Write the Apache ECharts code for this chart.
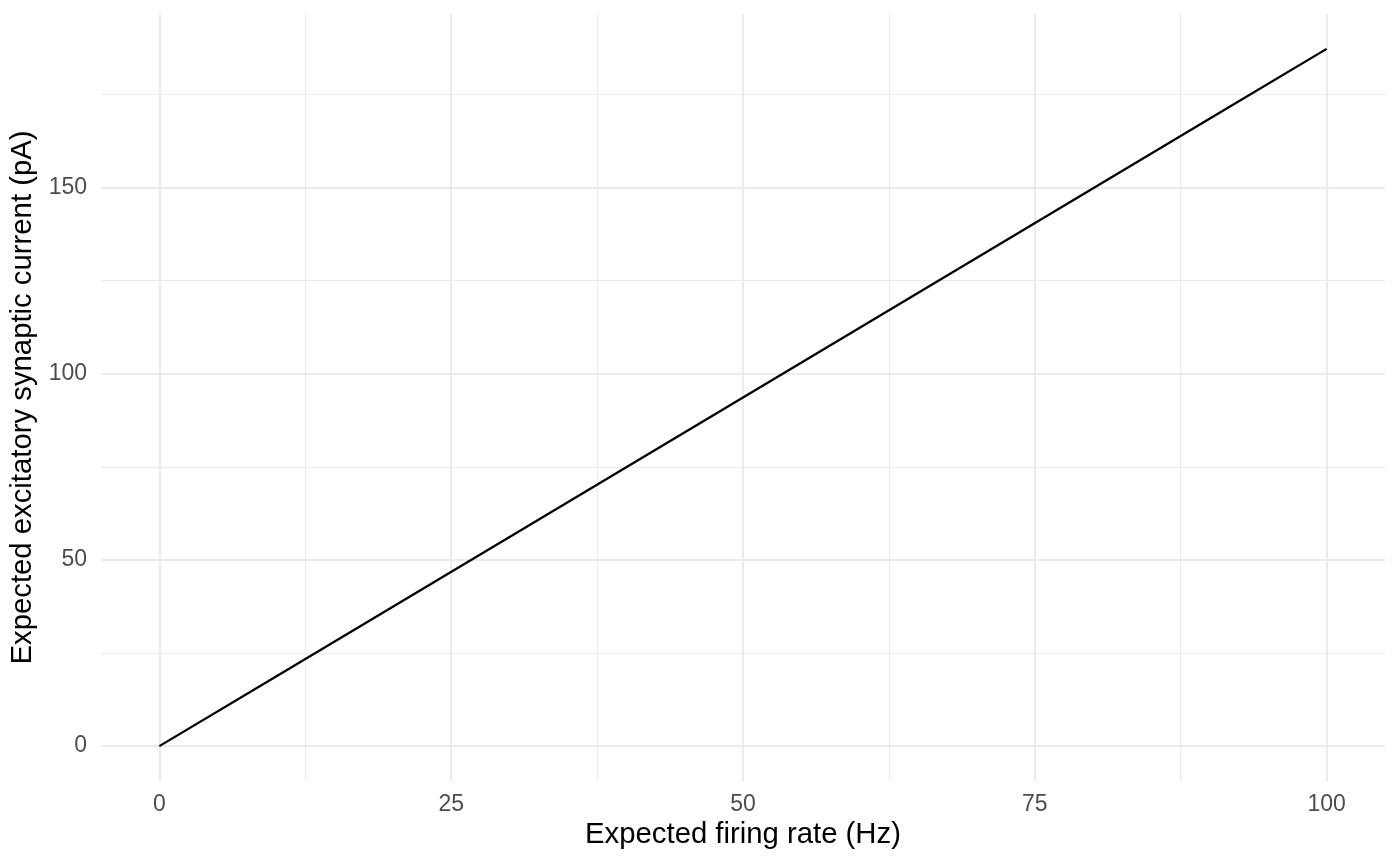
<!DOCTYPE html>
<html><head><meta charset="utf-8">
<script src="https://cdn.jsdelivr.net/npm/echarts@6/dist/echarts.min.js"></script>
<style>html,body{margin:0;padding:0;background:#fff}#c{width:1400px;height:865px}</style>
</head><body><div id="c"></div>
<script>
const rateHz = [0, 10, 20, 30, 40, 50, 60, 70, 80, 90, 100];
const currentPA = [0, 18.72, 37.44, 56.16, 74.88, 93.6, 112.32, 131.04, 149.76, 168.48, 187.2];
const xMajor = [0, 25, 50, 75, 100];
const xMinor = [12.5, 37.5, 62.5, 87.5];
const yMajor = [0, 50, 100, 150];
const yMinor = [25, 75, 125, 175];
const xName = 'Expected firing rate (Hz)';
const yName = 'Expected excitatory synaptic current (pA)';

const font = 'Liberation Sans, Arial, Helvetica, sans-serif';
const chart = echarts.init(document.getElementById('c'));
function gridLines(vals, key, w) {
  return vals.map(v => ({ [key]: v, lineStyle: { color: '#ebebeb', width: w, type: 'solid' } }));
}
chart.setOption({
  animation: false,
  grid: { left: 101, right: 15, top: 14, bottom: 84 },
  xAxis: {
    type: 'value', min: -5, max: 105,
    name: xName, nameLocation: 'middle', nameGap: 38,
    nameTextStyle: { color: '#000', fontSize: 29.3, fontFamily: font },
    axisLine: { show: false }, axisTick: { show: false, customValues: xMajor }, splitLine: { show: false },
    axisLabel: { color: '#4d4d4d', fontSize: 23, fontFamily: font, margin: 12, customValues: xMajor }
  },
  yAxis: {
    type: 'value', min: -9.36, max: 196.56,
    name: yName, nameLocation: 'middle', nameGap: 53,
    nameTextStyle: { color: '#000', fontSize: 29.3, fontFamily: font },
    axisLine: { show: false }, axisTick: { show: false, customValues: yMajor }, splitLine: { show: false },
    axisLabel: { color: '#4d4d4d', fontSize: 23, fontFamily: font, margin: 14, customValues: yMajor }
  },
  series: [
    {
      type: 'line', data: [], silent: true,
      markLine: {
        silent: true, symbol: 'none', label: { show: false }, animation: false,
        data: [].concat(gridLines(xMinor, 'xAxis', 1.1), gridLines(yMinor, 'yAxis', 1.1),
                        gridLines(xMajor, 'xAxis', 2.2), gridLines(yMajor, 'yAxis', 2.2))
      }
    },
    {
      type: 'line', data: rateHz.map((x, i) => [x, currentPA[i]]),
      showSymbol: false, symbol: 'none', lineStyle: { color: '#000', width: 2.3 }, z: 5
    }
  ]
});
</script></body></html>
